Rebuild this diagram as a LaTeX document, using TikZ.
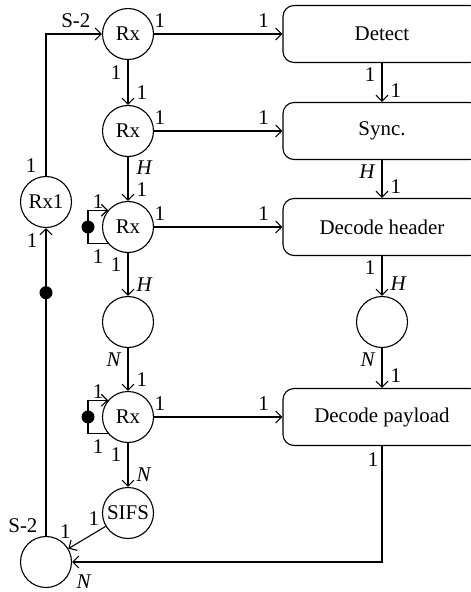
\documentclass[tikz,border=0pt]{standalone}
\usepackage{fontspec}
\setmainfont{Liberation Serif}
\usetikzlibrary{arrows.meta}

\tikzset{
	state/.style={circle,draw,minimum size=51bp,inner sep=0pt},
	task/.style={rectangle,draw,rounded corners=11bp,minimum width=198bp,minimum height=57bp,inner sep=0pt},
	dot/.style={circle,fill,minimum size=13bp,inner sep=0pt},
	flow/.style={-{Straight Barb[length=6bp,width=12bp]}},
	hs/.style={pos=0,anchor=south west,inner sep=0pt,xshift=0bp,yshift=6bp},
	he/.style={pos=1,anchor=south east,inner sep=0pt,xshift=-13bp,yshift=6bp},
	vl/.style={anchor=east,inner sep=0pt,xshift=-6bp},
	vr/.style={anchor=west,inner sep=0pt,xshift=8bp}
}

\begin{document}
\begin{tikzpicture}[x=1bp,y=-1bp,line width=1.1bp,font=\fontsize{21}{23}\selectfont]
	\useasboundingbox (0,0) rectangle (471,592);

	% receiver chain
	\node[state] (rx1)  at (128,34)  {Rx};
	\node[state] (rx2)  at (128,131) {Rx};
	\node[state] (rx3)  at (128,227) {Rx};
	\node[state] (hdr)  at (128,322) {};
	\node[state] (rx4)  at (128,417) {Rx};
	\node[state] (sifs) at (128,513) {SIFS};
	\node[state] (rxl)  at (46,202)  {Rx1};
	\node[state] (back) at (46,562)  {};

	% processing
	\node[task]  (det) at (382,34)  {Detect};
	\node[task]  (syn) at (382,131) {Sync.};
	\node[task]  (dh)  at (382,227) {Decode header};
	\node[state] (pl)  at (382,322) {};
	\node[task]  (dp)  at (382,417) {Decode payload};

	\draw[flow] (rx1) -- node[vl,pos=.27]{1} node[vr,pos=.73]{1} (rx2);
	\draw[flow] (rx2) -- node[vr,pos=.25]{\textit{H}} node[vr,pos=.75]{1} (rx3);
	\draw[flow] (rx3) -- node[vl,pos=.27]{1} node[vr,pos=.73]{\textit{H}} (hdr);
	\draw[flow] (hdr) -- node[vl,pos=.27]{\textit{N}} node[vr,pos=.73]{1} (rx4);
	\draw[flow] (rx4) -- node[vl,pos=.27]{1} node[vr,pos=.73]{\textit{N}} (sifs);

	\draw[flow] (rx1) -- node[hs]{1} node[he]{1} (det);
	\draw[flow] (rx2) -- node[hs]{1} node[he]{1} (syn);
	\draw[flow] (rx3) -- node[hs]{1} node[he]{1} (dh);
	\draw[flow] (rx4) -- node[hs]{1} node[he]{1} (dp);

	\draw[flow] (det) -- node[vl,pos=.3]{1} node[vr,pos=.7]{1} (syn);
	\draw[flow] (syn) -- node[vl,pos=.3]{\textit{H}} node[vr,pos=.7]{1} (dh);
	\draw[flow] (dh)  -- node[vl,pos=.3]{1} node[vr,pos=.7]{\textit{H}} (pl);
	\draw[flow] (pl)  -- node[vl,pos=.3]{\textit{N}} node[vr,pos=.7]{1} (dp);

	% self loops
	\draw[flow] (rx3.220) -- node[below,inner sep=5bp]{1} ++(-20,0)
		|- node[pos=.25,dot]{} node[pos=.75,above,inner sep=1bp]{1} (rx3.140);
	\draw[flow] (rx4.220) -- node[below,inner sep=5bp]{1} ++(-20,0)
		|- node[pos=.25,dot]{} node[pos=.75,above,inner sep=1bp]{1} (rx4.140);

	% feedback
	\draw[flow] (rxl) |- node[pos=0,anchor=south east,inner sep=0pt,xshift=-9bp,yshift=3bp]{1}
		node[pos=1,anchor=south east,inner sep=0pt,xshift=-11bp,yshift=6bp]{S-2} (rx1);
	\draw[flow] (back) -- node[pos=.79,dot]{}
		node[pos=0,anchor=south east,inner sep=0pt,xshift=-8bp,yshift=3bp]{S-2}
		node[pos=1,anchor=north east,inner sep=0pt,xshift=-8bp,yshift=-5bp]{1} (rxl);
	\draw[flow] (sifs) -- node[pos=0,anchor=south east,inner sep=0pt,xshift=-6bp]{1}
		node[pos=1,anchor=south,inner sep=0pt,xshift=-3bp,yshift=10bp]{1} (back);
	\draw[flow] (dp) |- node[pos=0,anchor=north east,inner sep=0pt,xshift=-3bp,yshift=-6bp]{1}
		node[pos=1,anchor=north west,inner sep=0pt,xshift=4bp,yshift=-12bp]{\textit{N}} (back);
\end{tikzpicture}
\end{document}
